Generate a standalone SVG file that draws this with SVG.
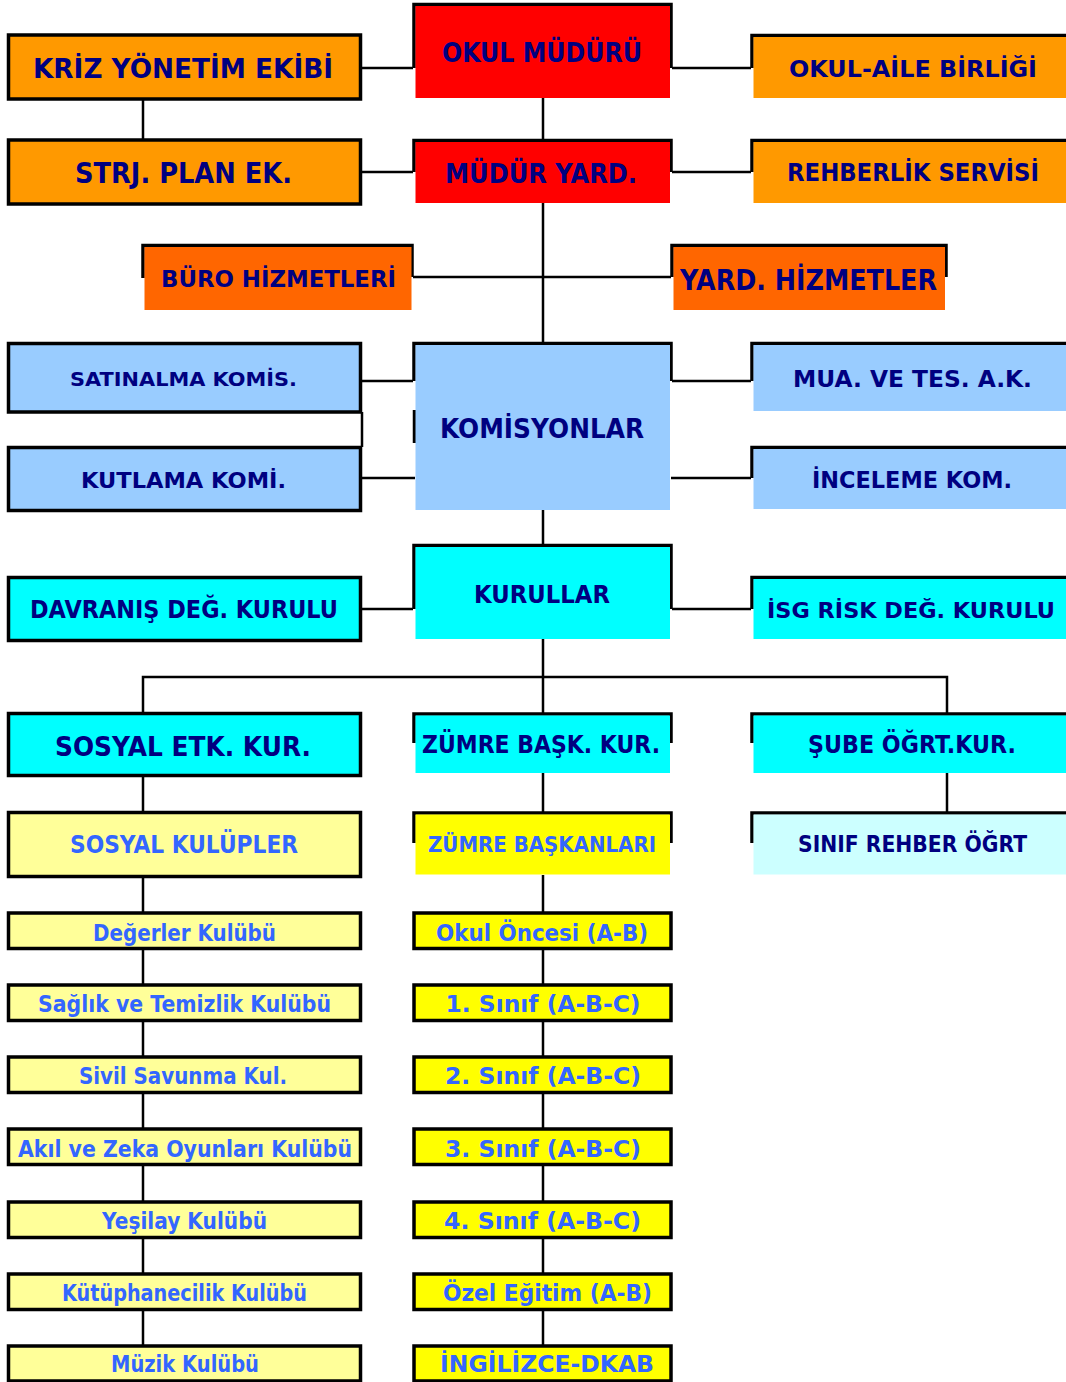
<svg xmlns="http://www.w3.org/2000/svg" width="1066" height="1382" viewBox="0 0 1066 1382">
<style>
text{font-family:"DejaVu Sans","Liberation Sans",sans-serif;font-weight:bold;text-anchor:middle}
.n{fill:#000080}
.b{fill:#3366FF}
.ol{fill:none;stroke:#000;stroke-width:3.5;stroke-linejoin:miter}
.full{stroke:#000;stroke-width:3.5}
.c{fill:none;stroke:#000;stroke-width:2.5}
.or{fill:#FF9900}.rd{fill:#FF0000}.do{fill:#FF6600}.lb{fill:#99CCFF}.cy{fill:#00FFFF}.ly{fill:#FFFF99}.ye{fill:#FFFF00}.lc{fill:#CCFFFF}
</style>
<rect width="1066" height="1382" fill="#fff"/>
<g id="connectors">
<path class="c" d="M361,68H413M672,68H751M143,100V139M543,98V139M361,172H413M672,172H751M543,203V342M413,277H543M543,277H671M361,381H413M362,412V447M361,478H415M672,381H751M671,478H751M543,510V545M361,609H413M672,609H751M543,639V713M143,713V677H947V713M143,776V811M543,773V812M947,773V812"/>
<path class="c" d="M143,877V912M143,949V984M143,1021V1056M143,1093V1128M143,1165V1201M143,1238V1273M143,1310V1345"/>
<path class="c" d="M543,875V912M543,949V984M543,1021V1056M543,1093V1128M543,1165V1201M543,1238V1273M543,1310V1345"/>
</g>
<g id="kriz"><rect class="full or" x="8.5" y="35" width="352" height="64"/><text class="n" x="183" y="78" font-size="26" textLength="300" lengthAdjust="spacingAndGlyphs">KRİZ YÖNETİM EKİBİ</text></g>
<g id="okul-muduru"><path class="ol" d="M414,68V4.5H671V68"/><rect class="rd" x="415.5" y="6" width="254.5" height="92"/><text class="n" x="542" y="62" font-size="26" textLength="200" lengthAdjust="spacingAndGlyphs">OKUL MÜDÜRÜ</text></g>
<g id="okul-aile"><path class="ol" d="M752,68V35.5H1066"/><rect class="or" x="753.5" y="37" width="312.5" height="61"/><text class="n" x="913" y="77" font-size="23" textLength="248" lengthAdjust="spacingAndGlyphs">OKUL-AİLE BİRLİĞİ</text></g>
<g id="strj"><rect class="full or" x="8.5" y="140" width="352" height="64"/><text class="n" x="183.5" y="183" font-size="28" textLength="217" lengthAdjust="spacingAndGlyphs">STRJ. PLAN EK.</text></g>
<g id="mudur-yard"><path class="ol" d="M414,172V140.5H671V172"/><rect class="rd" x="415.5" y="142" width="254.5" height="61"/><text class="n" x="541" y="183" font-size="27" textLength="192" lengthAdjust="spacingAndGlyphs">MÜDÜR YARD.</text></g>
<g id="rehberlik"><path class="ol" d="M752,172V140.5H1066"/><rect class="or" x="753.5" y="142" width="312.5" height="61"/><text class="n" x="913" y="181" font-size="24" textLength="252" lengthAdjust="spacingAndGlyphs">REHBERLİK SERVİSİ</text></g>
<g id="buro"><path class="ol" d="M143,278V245.5H412V277"/><rect class="do" x="144.5" y="247" width="267" height="63"/><text class="n" x="278.5" y="287" font-size="23" textLength="235" lengthAdjust="spacingAndGlyphs">BÜRO HİZMETLERİ</text></g>
<g id="yard-hizmetler"><path class="ol" d="M672,277V245.5H946V277"/><rect class="do" x="673.5" y="247" width="271.5" height="63"/><text class="n" x="808.5" y="290" font-size="28" textLength="257" lengthAdjust="spacingAndGlyphs">YARD. HİZMETLER</text></g>
<g id="satinalma"><rect class="full lb" x="8.5" y="343.5" width="352" height="68.5"/><text class="n" x="183.5" y="386" font-size="20" textLength="227" lengthAdjust="spacingAndGlyphs">SATINALMA KOMİS.</text></g>
<g id="kutlama"><rect class="full lb" x="8.5" y="447.5" width="352" height="63"/><text class="n" x="183.5" y="488" font-size="22" textLength="205" lengthAdjust="spacingAndGlyphs">KUTLAMA KOMİ.</text></g>
<g id="komisyonlar"><path class="ol" d="M414,381V343.5H671V381M414.5,410V443"/><rect class="lb" x="415.5" y="345" width="254.5" height="165"/><text class="n" x="542" y="438" font-size="27" textLength="204" lengthAdjust="spacingAndGlyphs">KOMİSYONLAR</text></g>
<g id="mua"><path class="ol" d="M752,381V343.5H1066"/><rect class="lb" x="753.5" y="345" width="312.5" height="66"/><text class="n" x="912.5" y="387" font-size="23" textLength="239" lengthAdjust="spacingAndGlyphs">MUA. VE TES. A.K.</text></g>
<g id="inceleme"><path class="ol" d="M752,478V447.5H1066"/><rect class="lb" x="753.5" y="449" width="312.5" height="60"/><text class="n" x="912" y="488" font-size="23" textLength="200" lengthAdjust="spacingAndGlyphs">İNCELEME KOM.</text></g>
<g id="davranis"><rect class="full cy" x="8.5" y="577.5" width="352" height="63"/><text class="n" x="184" y="618" font-size="25" textLength="308" lengthAdjust="spacingAndGlyphs">DAVRANIŞ DEĞ. KURULU</text></g>
<g id="kurullar"><path class="ol" d="M414,609V545.5H671V609"/><rect class="cy" x="415.5" y="547" width="254.5" height="92"/><text class="n" x="542" y="603" font-size="25" textLength="136" lengthAdjust="spacingAndGlyphs">KURULLAR</text></g>
<g id="isg"><path class="ol" d="M752,609V577.5H1066"/><rect class="cy" x="753.5" y="579" width="312.5" height="60"/><text class="n" x="911" y="618" font-size="22" textLength="288" lengthAdjust="spacingAndGlyphs">İSG RİSK DEĞ. KURULU</text></g>
<g id="sosyal-etk"><rect class="full cy" x="8.5" y="713.5" width="352" height="62"/><text class="n" x="183" y="756" font-size="26" textLength="256" lengthAdjust="spacingAndGlyphs">SOSYAL ETK. KUR.</text></g>
<g id="zumre-bask-kur"><path class="ol" d="M414,743V714H671V743"/><rect class="cy" x="415.5" y="715.5" width="254.5" height="57.5"/><text class="n" x="541" y="753" font-size="24" textLength="238" lengthAdjust="spacingAndGlyphs">ZÜMRE BAŞK. KUR.</text></g>
<g id="sube"><path class="ol" d="M752,743V714H1066"/><rect class="cy" x="753.5" y="715.5" width="312.5" height="57.5"/><text class="n" x="912" y="753" font-size="24" textLength="208" lengthAdjust="spacingAndGlyphs">ŞUBE ÖĞRT.KUR.</text></g>
<g id="sosyal-kulupler"><rect class="full ly" x="8.5" y="812.5" width="352" height="64"/><text class="b" x="184" y="853" font-size="24" textLength="228" lengthAdjust="spacingAndGlyphs">SOSYAL KULÜPLER</text></g>
<g id="zumre-baskanlari"><path class="ol" d="M414,843V813H671V843"/><rect class="ye" x="415.5" y="814.5" width="254.5" height="60"/><text class="b" x="542" y="852" font-size="21" textLength="228" lengthAdjust="spacingAndGlyphs">ZÜMRE BAŞKANLARI</text></g>
<g id="sinif-rehber"><path class="ol" d="M752,843V813H1066"/><rect class="lc" x="753.5" y="814.5" width="312.5" height="60"/><text class="n" x="912.5" y="852" font-size="23" textLength="229" lengthAdjust="spacingAndGlyphs">SINIF REHBER ÖĞRT</text></g>
<g id="degerler"><rect class="full ly" x="8.5" y="913" width="352" height="35.5"/><text class="b" x="184.5" y="941" font-size="23" textLength="183" lengthAdjust="spacingAndGlyphs">Değerler Kulübü</text></g>
<g id="saglik"><rect class="full ly" x="8.5" y="985" width="352" height="35.5"/><text class="b" x="184.5" y="1012" font-size="23" textLength="293" lengthAdjust="spacingAndGlyphs">Sağlık ve Temizlik Kulübü</text></g>
<g id="sivil"><rect class="full ly" x="8.5" y="1057" width="352" height="35.5"/><text class="b" x="183" y="1084" font-size="23" textLength="208" lengthAdjust="spacingAndGlyphs">Sivil Savunma Kul.</text></g>
<g id="akil"><rect class="full ly" x="8.5" y="1129" width="352" height="35.5"/><text class="b" x="185" y="1157" font-size="23" textLength="334" lengthAdjust="spacingAndGlyphs">Akıl ve Zeka Oyunları Kulübü</text></g>
<g id="yesilay"><rect class="full ly" x="8.5" y="1202" width="352" height="35.5"/><text class="b" x="184.5" y="1229" font-size="23" textLength="165" lengthAdjust="spacingAndGlyphs">Yeşilay Kulübü</text></g>
<g id="kutuphanecilik"><rect class="full ly" x="8.5" y="1274" width="352" height="35.5"/><text class="b" x="184.5" y="1301" font-size="23" textLength="245" lengthAdjust="spacingAndGlyphs">Kütüphanecilik Kulübü</text></g>
<g id="muzik"><rect class="full ly" x="8.5" y="1346" width="352" height="35"/><text class="b" x="185" y="1372" font-size="23" textLength="148" lengthAdjust="spacingAndGlyphs">Müzik Kulübü</text></g>
<g id="okul-oncesi"><rect class="full ye" x="414" y="913" width="257" height="35.5"/><text class="b" x="542" y="941" font-size="23" textLength="212" lengthAdjust="spacingAndGlyphs">Okul Öncesi (A-B)</text></g>
<g id="sinif1"><rect class="full ye" x="414" y="985" width="257" height="35.5"/><text class="b" x="543" y="1012" font-size="23" textLength="195" lengthAdjust="spacingAndGlyphs">1. Sınıf (A-B-C)</text></g>
<g id="sinif2"><rect class="full ye" x="414" y="1057" width="257" height="35.5"/><text class="b" x="543" y="1084" font-size="23" textLength="196" lengthAdjust="spacingAndGlyphs">2. Sınıf (A-B-C)</text></g>
<g id="sinif3"><rect class="full ye" x="414" y="1129" width="257" height="35.5"/><text class="b" x="543" y="1157" font-size="23" textLength="196" lengthAdjust="spacingAndGlyphs">3. Sınıf (A-B-C)</text></g>
<g id="sinif4"><rect class="full ye" x="414" y="1202" width="257" height="35.5"/><text class="b" x="542.5" y="1229" font-size="23" textLength="197" lengthAdjust="spacingAndGlyphs">4. Sınıf (A-B-C)</text></g>
<g id="ozel-egitim"><rect class="full ye" x="414" y="1274" width="257" height="35.5"/><text class="b" x="547.5" y="1301" font-size="23" textLength="209" lengthAdjust="spacingAndGlyphs">Özel Eğitim (A-B)</text></g>
<g id="ingilizce"><rect class="full ye" x="414" y="1346" width="257" height="35"/><text class="b" x="547" y="1372" font-size="23" textLength="214" lengthAdjust="spacingAndGlyphs">İNGİLİZCE-DKAB</text></g>
</svg>
